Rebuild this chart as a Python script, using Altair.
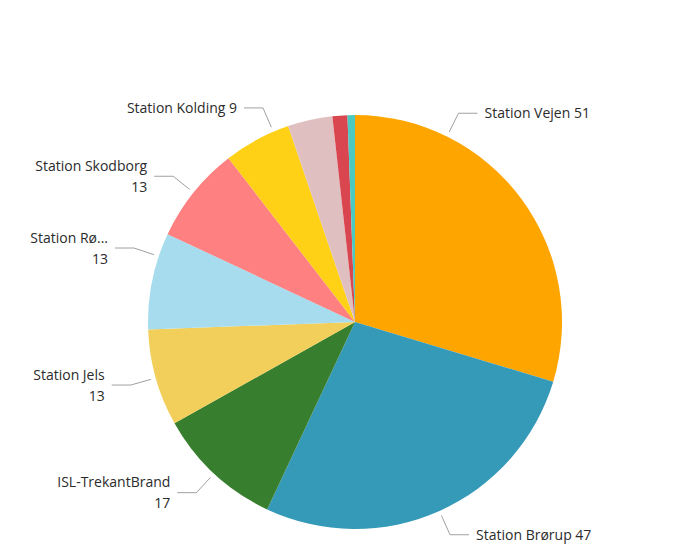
import altair as alt
import pandas as pd

# ---- data ----
categories = ["Station Vejen", "Station Brørup", "ISL-TrekantBrand", "Station Jels",
              "Station Rødding", "Station Skodborg", "Station Kolding",
              "Station Lunderskov", "Station Gesten", "Station Holsted"]
values = [51, 47, 17, 13, 13, 13, 9, 6, 2, 1]
shown_names = ["Station Vejen", "Station Brørup", "ISL-TrekantBrand", "Station Jels",
               "Station Rø...", "Station Skodborg", "Station Kolding", "", "", ""]
colors = ["#FFA500", "#3599B8", "#387E2F", "#F2CF5B", "#A6DCEE",
          "#FE8080", "#FED117", "#DFBFBF", "#D9464F", "#4CC9C0"]

# ---- layout (not data) ----
two_line = {"ISL-TrekantBrand", "Station Jels", "Station Rødding", "Station Skodborg"}
angle_shift = {"Station Vejen": -27.0, "Station Rødding": 7.0, "Station Kolding": 5.0}  # label anchor nudges, degrees
W, H = 660, 520
CX, CY = 342, 309
R = 207
R0, R1, HSEG, GAP = 212, 233, 19, 7
LH = 21

labels = []
for n, s, v in zip(categories, shown_names, values):
    if not s:
        labels.append("")
    elif n in two_line:
        labels.append(f"{s}\n{v}")
    else:
        labels.append(f"{s} {v}")

df = pd.DataFrame({
    "category": categories,
    "value": values,
    "order": list(range(len(categories))),
    "label": labels,
    "shift": [angle_shift.get(c, 0.0) for c in categories],
})

base = alt.Chart(df)

pie = base.mark_arc(outerRadius=R).encode(
    theta=alt.Theta("value:Q", stack=True),
    order=alt.Order("order:Q"),
    color=alt.Color("category:N", scale=alt.Scale(domain=categories, range=colors), legend=None),
    x=alt.value(CX),
    y=alt.value(CY),
)

geo = base.transform_window(
    cum="sum(value)", sort=[alt.SortField("order")], frame=[None, 0]
).transform_joinaggregate(
    total="sum(value)"
).transform_filter(
    "datum.label != ''"
).transform_calculate(
    mid="((datum.cum - datum.value/2)/datum.total)*2*PI + datum.shift*PI/180"
).transform_calculate(
    side="sin(datum.mid) >= 0 ? 1 : -1",
    x0=f"{R0}*sin(datum.mid)", y0=f"-{R0}*cos(datum.mid)",
    x1=f"{R1}*sin(datum.mid)", y1=f"-{R1}*cos(datum.mid)",
).transform_calculate(
    x2=f"datum.x1 + datum.side*{HSEG}",
    ty=f"datum.y1 + 1 - (indexof(datum.label, '\\n') >= 0 ? {LH}/2 : 0)",
).transform_calculate(
    tx=f"datum.x2 + datum.side*{GAP}",
)

xs = alt.Scale(domain=[-CX, W - CX], range=[0, W])
ys = alt.Scale(domain=[-CY, H - CY], range=[0, H])

seg1 = geo.mark_rule(color="#A0A0A0", strokeWidth=1).encode(
    x=alt.X("x0:Q", scale=xs, axis=None), y=alt.Y("y0:Q", scale=ys, axis=None),
    x2="x1:Q", y2="y1:Q",
)
seg2 = geo.mark_rule(color="#A0A0A0", strokeWidth=1).encode(
    x=alt.X("x1:Q", scale=xs, axis=None), y=alt.Y("y1:Q", scale=ys, axis=None),
    x2="x2:Q", y2="y1:Q",
)

txt_style = dict(font="Open Sans", fontSize=14, color="#2B2B2B", lineBreak="\n",
                 baseline="middle", lineHeight=LH)
right_txt = geo.transform_filter("datum.side > 0").mark_text(align="left", **txt_style).encode(
    x=alt.X("tx:Q", scale=xs, axis=None), y=alt.Y("ty:Q", scale=ys, axis=None), text="label:N",
)
left_txt = geo.transform_filter("datum.side < 0").mark_text(align="right", **txt_style).encode(
    x=alt.X("tx:Q", scale=xs, axis=None), y=alt.Y("ty:Q", scale=ys, axis=None), text="label:N",
)

chart = alt.layer(pie, seg1, seg2, right_txt, left_txt).properties(
    width=W, height=H, padding=5
).configure_view(stroke=None)

chart.save("out.html", embed_options={"renderer": "svg", "actions": False})
